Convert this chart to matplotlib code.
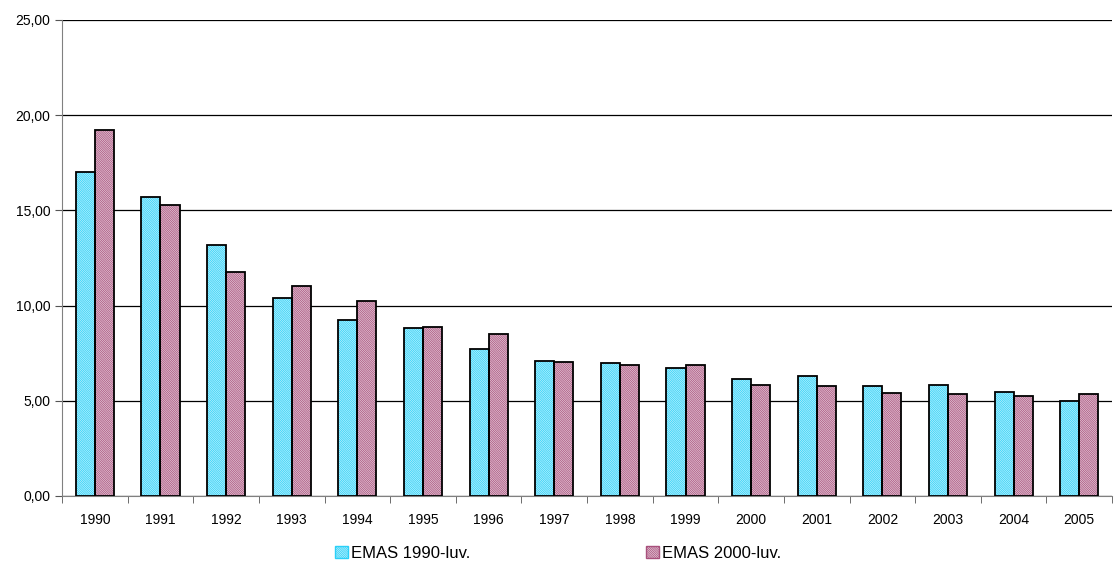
import matplotlib.pyplot as plt
import numpy as np
from matplotlib.patches import Patch

plt.rcParams['font.family'] = ['Liberation Sans', 'DejaVu Sans']
plt.rcParams['hatch.linewidth'] = 0.6

years = ['1990', '1991', '1992', '1993', '1994', '1995', '1996', '1997',
         '1998', '1999', '2000', '2001', '2002', '2003', '2004', '2005']
emas_1990 = [17.0, 15.70, 13.18, 10.40, 9.24, 8.82, 7.72, 7.09,
             6.99, 6.72, 6.14, 6.30, 5.78, 5.83, 5.48, 4.97]
emas_2000 = [19.22, 15.28, 11.76, 11.03, 10.24, 8.88, 8.50, 7.04,
             6.88, 6.88, 5.83, 5.78, 5.39, 5.36, 5.27, 5.37]
labels = ['EMAS 1990-luv.', 'EMAS 2000-luv.']

cyan = '#2AD0F8'
pink = '#A8507C'
hatch = '\\' * 18

fig = plt.figure(figsize=(11.16, 5.68), dpi=100)
ax = fig.add_axes([0.0556, 0.1268, 0.9409, 0.838])

x = np.arange(len(years))
w = 0.29

# hatched fill first, black outline drawn on top
for vals, off, col in [(emas_1990, -w / 2, cyan), (emas_2000, w / 2, pink)]:
    ax.bar(x + off, vals, w, color='white', edgecolor=col, hatch=hatch,
           linewidth=0, zorder=2)
    ax.bar(x + off, vals, w, fill=False, edgecolor='black', linewidth=1.3,
           zorder=3)

ax.set_xlim(-0.5, len(years) - 0.5)
ax.set_ylim(0, 25)
ax.set_yticks(np.arange(0, 26, 5))
ax.set_yticklabels([f'{v:.2f}'.replace('.', ',') for v in np.arange(0, 26, 5)])
ax.yaxis.grid(True, color='black', linewidth=0.9, zorder=1)
ax.set_axisbelow(True)

ax.set_xticks(x)
ax.set_xticklabels(years)
ax.set_xticks(np.arange(-0.5, len(years), 1), minor=True)
ax.tick_params(axis='x', which='major', length=0, pad=12, labelsize=10)
ax.tick_params(axis='x', which='minor', length=5, color='#555555')
ax.tick_params(axis='y', length=5, color='#555555', labelsize=10)

for s in ['top', 'right']:
    ax.spines[s].set_visible(False)
ax.spines['left'].set_color('#808080')
ax.spines['bottom'].set_color('#808080')

handles = [Patch(facecolor='white', edgecolor=cyan, hatch=hatch),
           Patch(facecolor='white', edgecolor=pink, hatch=hatch)]
fig.legend(handles, labels, loc='center', bbox_to_anchor=(0.5, 0.026),
           ncol=2, frameon=False, fontsize=12, handlelength=0.8,
           handleheight=0.8, handletextpad=0.2, columnspacing=10.5)

fig.savefig('out.png', dpi=100)
